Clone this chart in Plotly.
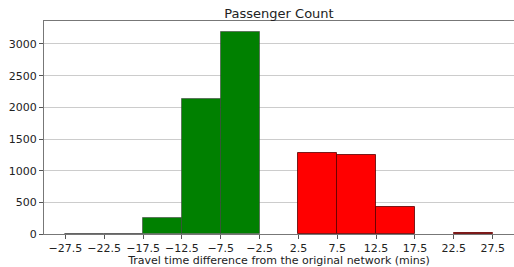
import plotly.graph_objects as go

bin_centers = [-25, -20, -15, -10, -5, 0, 5, 10, 15, 20, 25]
counts = [6, 6, 245, 2124, 3197, 0, 1280, 1247, 428, 0, 18]
bar_colors = ["green"] * 6 + ["red"] * 5
edge_colors = ["rgba(60,60,60,0.55)"] * 6 + ["rgba(90,0,0,0.8)"] * 5
x_ticks = [-27.5, -22.5, -17.5, -12.5, -7.5, -2.5, 2.5, 7.5, 12.5, 17.5, 22.5, 27.5]
x_ticklabels = [("\u2212" + str(abs(t))) if t < 0 else str(t) for t in x_ticks]
y_ticks = [0, 500, 1000, 1500, 2000, 2500, 3000]

fig = go.Figure()
fig.add_trace(go.Bar(
    x=bin_centers, y=counts, width=5,
    marker=dict(color=bar_colors,
                line=dict(color=edge_colors, width=[0 if c == 0 else 1 for c in counts])),
    showlegend=False,
))

font = "DejaVu Sans"
fig.update_layout(
    width=514, height=267,
    margin=dict(l=44, r=0, t=21, b=33),
    plot_bgcolor="white", paper_bgcolor="white",
    font=dict(family=font, size=11, color="#222"),
    title=dict(text="Passenger Count", x=(44 + 514) / 2 / 514, xanchor="center",
               y=1 - 13 / 267, yanchor="middle", font=dict(size=13, family=font, color="#222")),
    bargap=0,
)
fig.update_xaxes(
    range=[-30.25, 30.25], tickvals=x_ticks, ticktext=x_ticklabels,
    ticks="outside", ticklen=4, tickcolor="#555", showgrid=False,
    showline=True, linecolor="#777", linewidth=1, mirror=True, zeroline=False,
    title=dict(text="Travel time difference from the original network (mins)", standoff=3,
               font=dict(size=11)),
)
fig.update_yaxes(
    range=[0, 3363], tickvals=y_ticks, ticks="outside", ticklen=4, tickcolor="#555",
    showgrid=True, gridcolor="#cccccc", gridwidth=1,
    showline=True, linecolor="#777", linewidth=1, mirror=True, zeroline=False,
)
fig.write_html("out.html", config={"displayModeBar": False},
               post_script="document.body.style.margin='0';")
